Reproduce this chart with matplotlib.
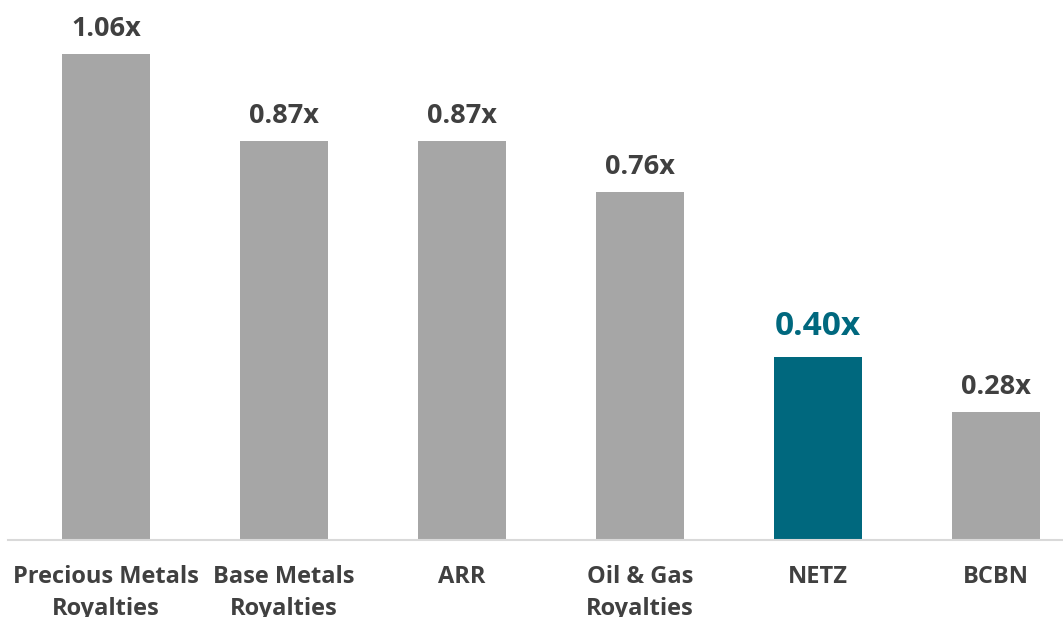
import matplotlib.pyplot as plt
from matplotlib import font_manager

categories = ['Precious Metals\nRoyalties', 'Base Metals\nRoyalties', 'ARR',
              'Oil & Gas\nRoyalties', 'NETZ', 'BCBN']
values = [1.06, 0.87, 0.87, 0.76, 0.40, 0.28]
highlight = 'NETZ'

gray = '#A6A6A6'
teal = '#00687E'
text_col = '#404040'

names = {f.name for f in font_manager.fontManager.ttflist}
fam = 'Liberation Sans Narrow' if 'Liberation Sans Narrow' in names else 'Open Sans'
plt.rcParams['font.family'] = [fam, 'DejaVu Sans']

fig = plt.figure(figsize=(10.63, 6.17), dpi=100)
ax = fig.add_axes([8 / 1063, 77 / 617, 1 - 8 / 1063, 540 / 617])

x = list(range(len(categories)))
colors = [teal if c == highlight else gray for c in categories]
ax.bar(x, values, width=0.494, color=colors, zorder=2)

for xi, v, c in zip(x, values, categories):
    if c == highlight:
        ax.annotate(f'{v:.2f}x', (xi, v), xytext=(0, 9.5), textcoords='offset points',
                    ha='center', va='bottom', fontsize=24, fontweight='bold', color=teal)
    else:
        ax.annotate(f'{v:.2f}x', (xi, v), xytext=(0, 8.5), textcoords='offset points',
                    ha='center', va='bottom', fontsize=19.5, fontweight='bold', color=text_col)

ax.set_xlim(-0.551, 5.376)
ax.set_ylim(0, 1.178)
ax.set_xticks(x)
ax.set_xticklabels(categories, fontsize=17, fontweight='bold', color=text_col,
                   linespacing=1.45, va='top')
ax.tick_params(axis='x', length=0, pad=18)
ax.set_yticks([])
for s in ['top', 'right', 'left']:
    ax.spines[s].set_visible(False)
ax.spines['bottom'].set_color('#D9D9D9')
ax.spines['bottom'].set_linewidth(1.5)

fig.savefig('out.png', dpi=100)
